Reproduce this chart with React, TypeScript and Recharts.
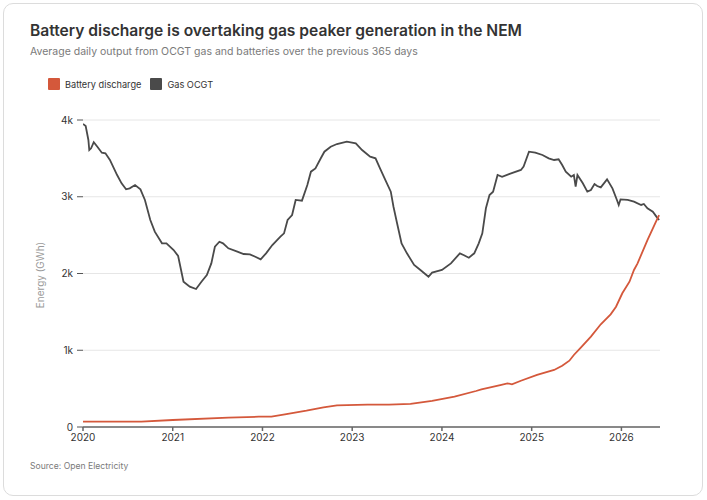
import { LineChart, Line, XAxis, YAxis, CartesianGrid } from "recharts";

const gasYears = [
  2020.0, 2020.03, 2020.06, 2020.07, 2020.09, 2020.12, 2020.16, 2020.21, 2020.25, 2020.3,
  2020.38, 2020.43, 2020.48, 2020.52, 2020.58, 2020.64, 2020.69, 2020.75, 2020.8, 2020.88,
  2020.93, 2021.01, 2021.06, 2021.12, 2021.19, 2021.26, 2021.32, 2021.38, 2021.43, 2021.47,
  2021.52, 2021.56, 2021.62, 2021.72, 2021.79, 2021.86, 2021.92, 2021.98, 2022.04, 2022.11,
  2022.2, 2022.24, 2022.28, 2022.33, 2022.37, 2022.44, 2022.5, 2022.54, 2022.59, 2022.65,
  2022.69, 2022.76, 2022.83, 2022.94, 2023.04, 2023.11, 2023.2, 2023.26, 2023.31, 2023.37,
  2023.43, 2023.46, 2023.5, 2023.55, 2023.61, 2023.69, 2023.76, 2023.85, 2023.89, 2024.0,
  2024.1, 2024.2, 2024.24, 2024.3, 2024.36, 2024.41, 2024.45, 2024.49, 2024.53, 2024.57,
  2024.62, 2024.67, 2024.77, 2024.88, 2024.91, 2024.97, 2025.04, 2025.12, 2025.19, 2025.25,
  2025.3, 2025.34, 2025.38, 2025.44, 2025.47, 2025.49, 2025.51, 2025.57, 2025.62, 2025.66,
  2025.7, 2025.73, 2025.77, 2025.84, 2025.9, 2025.95, 2025.97, 2025.99, 2026.07, 2026.14,
  2026.22, 2026.25, 2026.29, 2026.35, 2026.39, 2026.42,
];
const gasValues = [
  3948, 3922, 3740, 3609, 3631, 3710, 3652, 3574, 3566, 3479,
  3283, 3175, 3097, 3110, 3153, 3097, 2958, 2697, 2545, 2393,
  2393, 2306, 2228, 1893, 1828, 1798, 1893, 1980, 2132, 2349,
  2414, 2393, 2328, 2284, 2254, 2250, 2219, 2185, 2263, 2371,
  2480, 2523, 2697, 2762, 2958, 2949, 3153, 3327, 3370, 3501,
  3587, 3652, 3687, 3717, 3696, 3609, 3522, 3501, 3370, 3218,
  3066, 2870, 2654, 2393, 2263, 2111, 2046, 1958, 2011, 2046,
  2132, 2263, 2241, 2206, 2263, 2393, 2523, 2850, 3023, 3066,
  3283, 3261, 3305, 3349, 3392, 3587, 3574, 3544, 3501, 3479,
  3488, 3414, 3327, 3261, 3283, 3131, 3283, 3175, 3066, 3088,
  3166, 3140, 3123, 3227, 3110, 2958, 2893, 2966, 2958, 2936,
  2893, 2906, 2850, 2806, 2741, 2697,
];

const batteryYears = [
  2020.0, 2020.65, 2021.0, 2021.62, 2021.96, 2022.1, 2022.25, 2022.49, 2022.68, 2022.83,
  2023.17, 2023.41, 2023.65, 2023.89, 2024.14, 2024.38, 2024.44, 2024.65, 2024.73, 2024.78,
  2024.88, 2025.06, 2025.25, 2025.34, 2025.42, 2025.47, 2025.55, 2025.66, 2025.77, 2025.88,
  2025.94, 2026.01, 2026.09, 2026.14, 2026.18, 2026.29, 2026.38, 2026.42,
];
const batteryValues = [
  69, 69, 91, 121, 134, 134, 165, 212, 256, 283,
  291, 291, 300, 339, 395, 469, 491, 547, 569, 556,
  603, 678, 743, 799, 864, 938, 1038, 1177, 1338, 1468,
  1567, 1742, 1893, 2046, 2132, 2436, 2662, 2762,
];

const yearTicks = [2020, 2021, 2022, 2023, 2024, 2025, 2026];
const energyTicks = [0, 1000, 2000, 3000, 4000];

const BATTERY = "#d4583b";
const GAS = "#4a4a4a";
const FONT = "Inter, 'Open Sans', sans-serif";

const gasData = gasYears.map((t, i) => ({ t, v: gasValues[i] }));
const batteryData = batteryYears.map((t, i) => ({ t, v: batteryValues[i] }));

function LegendItem({ color, label }: { color: string; label: string }) {
  return (
    <div style={{ display: "flex", alignItems: "center", gap: 5, marginRight: 9 }}>
      <div style={{ width: 12, height: 12, background: color, borderRadius: 1 }} />
      <span style={{ fontSize: 9.2, color: "#333" }}>{label}</span>
    </div>
  );
}

export default function App() {
  return (
    <div style={{ position: "absolute", left: 0, top: 0, width: 707, height: 500, fontFamily: FONT }}>
      <div
        style={{
          position: "absolute",
          left: 3,
          top: 3,
          width: 698,
          height: 491,
          border: "1px solid #dcdcdc",
          borderRadius: 10,
          background: "#fff",
        }}
      />
      <div
        style={{
          position: "absolute",
          left: 30,
          top: 21,
          fontSize: 15.6,
          fontWeight: 600,
          color: "#333",
          whiteSpace: "nowrap",
        }}
      >
        Battery discharge is overtaking gas peaker generation in the NEM
      </div>
      <div style={{ position: "absolute", left: 30, top: 45, fontSize: 10.5, color: "#7a7a7a", whiteSpace: "nowrap" }}>
        Average daily output from OCGT gas and batteries over the previous 365 days
      </div>
      <div style={{ position: "absolute", left: 48, top: 78, display: "flex" }}>
        <LegendItem color={BATTERY} label="Battery discharge" />
        <LegendItem color={GAS} label="Gas OCGT" />
      </div>
      <div
        style={{
          position: "absolute",
          left: 40,
          top: 275,
          fontSize: 10,
          color: "#9a9a9a",
          whiteSpace: "nowrap",
          transform: "translate(-50%, -50%) rotate(-90deg)",
        }}
      >
        Energy (GWh)
      </div>
      <div style={{ position: "absolute", left: 30, top: 461, fontSize: 8.6, color: "#7a7a7a" }}>
        Source: Open Electricity
      </div>
      <div style={{ position: "absolute", left: 0, top: 0 }}>
        <LineChart width={707} height={500} margin={{ top: 120, right: 47, bottom: 43, left: 40 }}>
          <CartesianGrid vertical={false} stroke="#e6e6e6" strokeWidth={1} />
          <XAxis
            type="number"
            dataKey="t"
            domain={[2020, 2026.43]}
            allowDataOverflow
            ticks={yearTicks}
            tickFormatter={(v) => String(v)}
            height={30}
            tickSize={4}
            tickMargin={3}
            stroke="#666"
            strokeWidth={1.5}
            tick={{ fontSize: 10, fill: "#333", fontFamily: FONT }}
          />
          <YAxis
            type="number"
            domain={[0, 4000]}
            ticks={energyTicks}
            tickFormatter={(v) => (v === 0 ? "0" : `${v / 1000}k`)}
            width={43}
            axisLine={false}
            tickSize={6}
            tickMargin={4}
            tickLine={{ stroke: "#555" }}
            tick={{ fontSize: 10, fill: "#333", fontFamily: FONT }}
          />
          <Line
            data={gasData}
            dataKey="v"
            type="linear"
            stroke={GAS}
            strokeWidth={1.8}
            dot={false}
            isAnimationActive={false}
          />
          <Line
            data={batteryData}
            dataKey="v"
            type="linear"
            stroke={BATTERY}
            strokeWidth={1.8}
            dot={false}
            isAnimationActive={false}
          />
        </LineChart>
      </div>
    </div>
  );
}
